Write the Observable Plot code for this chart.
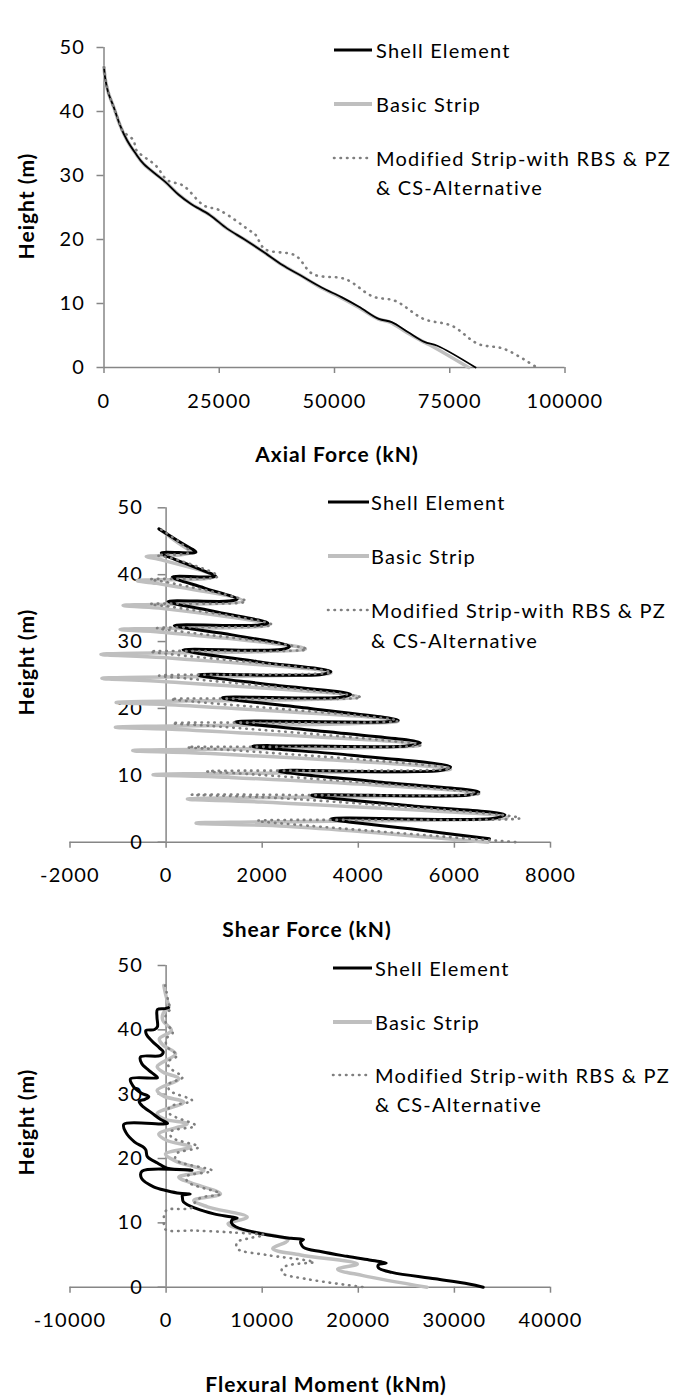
<!DOCTYPE html>
<html><head><meta charset="utf-8">
<script src="https://cdn.jsdelivr.net/npm/d3@7"></script>
<script src="https://cdn.jsdelivr.net/npm/@observablehq/plot@0.6"></script>
<style>
body{margin:0;background:#fff;}
#wrap{position:relative;width:680px;height:1399px;overflow:hidden;font-family:Lato,"Open Sans",sans-serif;color:#000;}
.panel{position:absolute;left:0;}
.xt,.yt{position:absolute;font-weight:bold;font-size:21px;letter-spacing:1px;white-space:nowrap;line-height:1;}
.xt{transform:translate(-50%,-50%);}
.yt{transform:translate(-50%,-50%) rotate(-90deg);}
.leg{position:absolute;font-size:20px;letter-spacing:1.2px;white-space:nowrap;line-height:1;transform:translateY(-50%);}
.sw{position:absolute;}
</style></head>
<body><div id="wrap"></div>
<script>
// ---------- data ----------
const heightTicks = [0, 10, 20, 30, 40, 50];
const axialTicks = [0, 25000, 50000, 75000, 100000];
const shearTicks = [-2000, 0, 2000, 4000, 6000, 8000];
const momentTicks = [-10000, 0, 10000, 20000, 30000, 40000];
const seriesNames = ["Shell Element", "Basic Strip", "Modified Strip-with RBS & PZ", "& CS-Alternative"];
const titles = ["Axial Force (kN)", "Shear Force (kN)", "Flexural Moment (kNm)"];
const yTitle = "Height (m)";

// [height (m), value]
const axialShell = [[46.9,0],[45,300],[43,900],[40.7,2100],[38,3400],[35.5,5000],[33.5,6800],[31.8,8600],[29,13300],[27,16200],[25.6,18800],[23.8,23000],[21.7,26700],[20,30500],[18,34700],[16,38700],[14.4,42600],[12.5,47200],[11,51500],[9.5,55300],[7.6,59600],[7.1,62400],[5.5,66000],[4.0,69500],[3.4,72300],[0,80600]];
const axialBasic = [[46.9,0],[45,300],[43,900],[40.7,2100],[38,3400],[35.5,5000],[33.5,6800],[31.8,8600],[29,13300],[27,16200],[25.6,18800],[23.8,23000],[21.7,26700],[20,30500],[18,34700],[16,38700],[14.4,42600],[12.5,47000],[11,51200],[9.5,55000],[7.6,59400],[7.1,62000],[5.5,65600],[4.0,69300],[3.4,71000],[0,79100]];
const axialModified = [[46.9,0],[44,600],[41,1900],[38.6,3200],[37,4000],[35.5,6400],[34,7000],[31.5,11300],[29.3,13700],[28.4,17200],[25.3,21700],[24.6,25000],[21.4,31600],[20.8,32800],[18.5,34900],[17.5,41500],[14.6,45300],[13.8,52400],[11.1,58300],[10.4,63200],[7.6,69300],[6.5,75500],[3.7,81100],[2.9,86800],[0,93900]];

const shearShell = [[46.85,-150],[45.1,235],[43.35,620],[43.25,500],[43.25,-100],[41.5,465],[39.75,1030],[39.65,900],[39.65,130],[38,800],[36.35,1480],[36.05,1300],[36.0,40],[34.4,1080],[32.75,2120],[32.45,1900],[32.4,170],[31,1370],[29.25,2570],[28.8,2400],[28.75,350],[27,1900],[25.5,3430],[25.05,3200],[25.0,670],[23.5,2250],[22.1,3840],[21.65,3600],[21.6,1170],[20,3000],[18.25,4830],[18.0,4600],[18.0,1440],[16.5,3370],[14.85,5290],[14.4,5000],[14.35,1800],[13,3860],[11.25,5920],[10.7,5700],[10.65,2340],[9,4420],[7.5,6510],[7.05,6300],[7.0,3020],[5.5,5030],[4.1,7050],[3.55,6800],[3.5,3430],[2,5080],[0.5,6730]];
const shearBasic = [[46.75,-120],[45,200],[43.3,500],[42.7,-413],[42.3,-150],[39.7,1000],[39.1,-600],[38.7,-200],[36.1,1600],[35.4,-895],[35.0,-150],[32.5,2150],[31.8,-958],[31.4,-100],[28.9,2900],[28.1,-1356],[27.6,-60],[25.3,3430],[24.5,-1336],[24.0,0],[21.7,4000],[20.9,-1040],[20.5,200],[18.1,4830],[17.2,-1056],[16.8,400],[14.5,5290],[13.7,-694],[13.3,800],[10.9,5920],[10.1,-272],[9.7,1300],[7.3,6510],[6.45,443],[6.0,2000],[3.7,7100],[2.85,624],[2.4,2500],[0,6700]];
const shearModified = [[46.75,-100],[45,250],[43.35,490],[42.9,-190],[42.5,100],[39.75,1080],[39.3,-330],[38.9,0],[36.0,1665],[35.6,-330],[35.2,100],[32.5,2210],[32.0,-190],[31.6,200],[28.85,2930],[28.5,-330],[28.1,100],[25.4,3430],[24.9,-145],[24.5,400],[21.65,4060],[21.4,100],[21.0,600],[18.15,4830],[17.8,130],[17.4,900],[14.5,5290],[14.2,443],[13.8,1300],[11.0,5920],[10.6,850],[10.2,1700],[7.25,6510],[7.1,534],[6.7,2100],[3.6,7370],[3.2,1900],[2.75,2500],[0,7280]];

const momentShell = [[43.45,250],[43.3,-100],[43.15,-900],[42,-950],[40.5,-900],[40.05,-1200],[39.9,-2100],[39.3,-2050],[38.3,-1500],[37.2,-700],[36.6,-300],[36.0,-600],[35.8,-2660],[34.8,-2550],[33.7,-1800],[32.9,-1100],[32.55,-900],[32.4,-3700],[31.3,-3450],[30.2,-2600],[29.6,-1800],[29.2,-2200],[28.9,-2800],[28.2,-2500],[27.1,-1500],[26.1,-600],[25.45,150],[25.3,-4400],[24.1,-4200],[22.6,-3300],[21.7,-2300],[21.3,-2100],[20.3,-1950],[19.3,-900],[18.5,100],[18.2,2700],[18.05,-2500],[16.9,-2550],[15.6,-1300],[15.0,100],[14.6,1400],[14.5,2500],[14.3,1700],[13.9,1700],[13.25,1800],[12.2,3170],[11.4,4980],[10.95,6700],[10.75,7400],[10.5,6900],[10.0,6800],[9.4,7240],[8.3,9950],[7.6,13000],[7.4,14300],[7.1,14000],[6.2,14300],[5.5,16200],[4.8,18800],[4.2,21300],[3.9,22500],[3.75,22900],[3.5,22100],[3.0,22100],[2.3,23500],[1.3,28000],[0.5,31500],[0,33000]];
const momentBasic = [[46.9,-240],[45.5,-50],[44.4,150],[43.5,300],[42.6,-300],[41.5,-350],[39.9,550],[38.6,-700],[37.6,-300],[36.3,980],[34.3,-926],[33.4,-300],[32.4,1320],[30.6,-926],[29.7,-250],[28.75,1840],[27.0,-926],[26.1,-150],[25.4,2190],[23.8,-760],[22.8,100],[21.8,2540],[20.7,-60],[19.6,1000],[18.1,3920],[17.1,1320],[16.2,2600],[14.5,5660],[13.5,2880],[12.5,4300],[10.9,8440],[9.85,6450],[8.9,8000],[7.3,12670],[6.0,11100],[5.0,14000],[3.6,19900],[2.8,17850],[1.8,20500],[0,27150]];
const momentModified = [[46.9,-100],[45.5,100],[44.2,250],[43.3,450],[42.4,0],[41.2,-50],[39.6,700],[38.6,0],[37.4,100],[36.0,1150],[35.1,250],[34.2,300],[32.6,1700],[31.6,300],[30.6,350],[29.0,2700],[28.0,350],[27.0,350],[25.1,3060],[24.2,500],[23.3,550],[21.8,3400],[20.7,1000],[19.7,1100],[18.1,4800],[17.2,2100],[16.3,2300],[14.5,5660],[13.9,3600],[13.0,2900],[12.3,2600],[12.15,1200],[12.05,100],[11.2,-200],[9.5,-200],[8.9,0],[8.8,3000],[8.5,7000],[8.1,10200],[7.6,8600],[7.0,7400],[6.0,7400],[5.0,10500],[4.2,14500],[3.9,15400],[3.5,13000],[3.0,12100],[2.2,12100],[1.3,14500],[0,20600]];

// ---------- styles ----------
const AX = "#868686";
const C_SHELL = "#000000", C_BASIC = "#bfbfbf", C_MOD = "#7f7f7f";
const DOT = "0.5 6";

const wrap = document.getElementById("wrap");

function panel(cfg) {
  const {top, height, mt, mb, ml, mr, xDomain, xTicks, shell, basic, modified, wShell, wBasic, tick, labelDx} = cfg;
  const zero = () => 0;
  const chart = Plot.plot({
    width: 680, height,
    marginTop: mt, marginBottom: mb, marginLeft: ml, marginRight: mr,
    x: {domain: xDomain},
    y: {domain: [0, 50], axis: null},
    style: {fontFamily: "Lato, 'Open Sans', sans-serif", fontSize: "20px", background: "transparent", overflow: "visible", letterSpacing: "1.2px"},
    marks: [
      Plot.ruleY([0], {x1: xDomain[0], x2: xDomain[1], stroke: AX, strokeWidth: 1.5}),
      Plot.ruleX([0], {y1: 0, y2: 50, stroke: AX, strokeWidth: 1.5}),
      Plot.ruleY(heightTicks, {x1: zero, x2: zero, insetLeft: -tick, stroke: AX, strokeWidth: 1.5}),
      Plot.text(heightTicks, {x: zero, y: d => d, text: d => String(d), textAnchor: "end", dx: labelDx, fill: "#000"}),
      Plot.axisX(xTicks, {tickSize: 6, tickPadding: 20, stroke: AX, strokeWidth: 1.5, fill: "#000", tickFormat: d => String(d), label: null}),
      Plot.line(basic, {x: d => d[1], y: d => d[0], stroke: C_BASIC, strokeWidth: wBasic, curve: "catmull-rom"}),
      Plot.line(shell, {x: d => d[1], y: d => d[0], stroke: C_SHELL, strokeWidth: wShell, curve: "catmull-rom"}),
      Plot.line(modified, {x: d => d[1], y: d => d[0], stroke: C_MOD, strokeWidth: 2.6, strokeDasharray: DOT, strokeLinecap: "round", curve: "catmull-rom"})
    ]
  });
  chart.classList.add("panel");
  chart.style.top = top + "px";
  wrap.appendChild(chart);
}

panel({top: 0, height: 440, mt: 47, mb: 73, ml: 103.5, mr: 115.5, xDomain: [0, 100000], xTicks: axialTicks,
  shell: axialShell, basic: axialBasic, modified: axialModified, wShell: 1.8, wBasic: 3.5, tick: 7, labelDx: -19});
panel({top: 440, height: 500, mt: 67.3, mb: 98.3, ml: 69.5, mr: 130, xDomain: [-2000, 8000], xTicks: shearTicks,
  shell: shearShell, basic: shearBasic, modified: shearModified, wShell: 3, wBasic: 3.5, tick: 8, labelDx: -23});
panel({top: 940, height: 459, mt: 25, mb: 112.3, ml: 69.5, mr: 130, xDomain: [-10000, 40000], xTicks: momentTicks,
  shell: momentShell, basic: momentBasic, modified: momentModified, wShell: 3, wBasic: 3.5, tick: 8, labelDx: -23});

// axis titles
function addDiv(cls, text, x, y) {
  const d = document.createElement("div");
  d.className = cls; d.textContent = text;
  d.style.left = x + "px"; d.style.top = y + "px";
  wrap.appendChild(d);
}
const xTitlePos = [[337, 453], [307, 928], [326, 1383]];
const yTitlePos = [[25, 206], [25, 662], [25, 1122]];
titles.forEach((t, i) => addDiv("xt", t, xTitlePos[i][0], xTitlePos[i][1]));
yTitlePos.forEach(p => addDiv("yt", yTitle, p[0], p[1]));

// legends
const legendPos = [
  {x1: 334, x2: 372, tx: 376, rows: [50, 104, 158, 187]},
  {x1: 328, x2: 369, tx: 371, rows: [502, 556, 610, 640]},
  {x1: 333, x2: 372, tx: 375, rows: [968, 1022, 1075, 1104]}
];
const legStyles = [
  {stroke: C_SHELL, w: 3, dash: null},
  {stroke: C_BASIC, w: 4, dash: null},
  {stroke: C_MOD, w: 2.6, dash: DOT}
];
legendPos.forEach(L => {
  legStyles.forEach((s, i) => {
    const svg = d3.create("svg").attr("class", "sw")
      .attr("width", L.x2 - L.x1 + 4).attr("height", 10)
      .style("left", (L.x1 - 2) + "px").style("top", (L.rows[i] - 5) + "px");
    svg.append("line").attr("x1", 2).attr("x2", L.x2 - L.x1 + 2).attr("y1", 5).attr("y2", 5)
      .attr("stroke", s.stroke).attr("stroke-width", s.w)
      .attr("stroke-dasharray", s.dash).attr("stroke-linecap", s.dash ? "round" : "butt");
    wrap.appendChild(svg.node());
    addDiv("leg", seriesNames[i], L.tx, L.rows[i]);
  });
  addDiv("leg", seriesNames[3], L.tx, L.rows[3]);
});
</script></body></html>
